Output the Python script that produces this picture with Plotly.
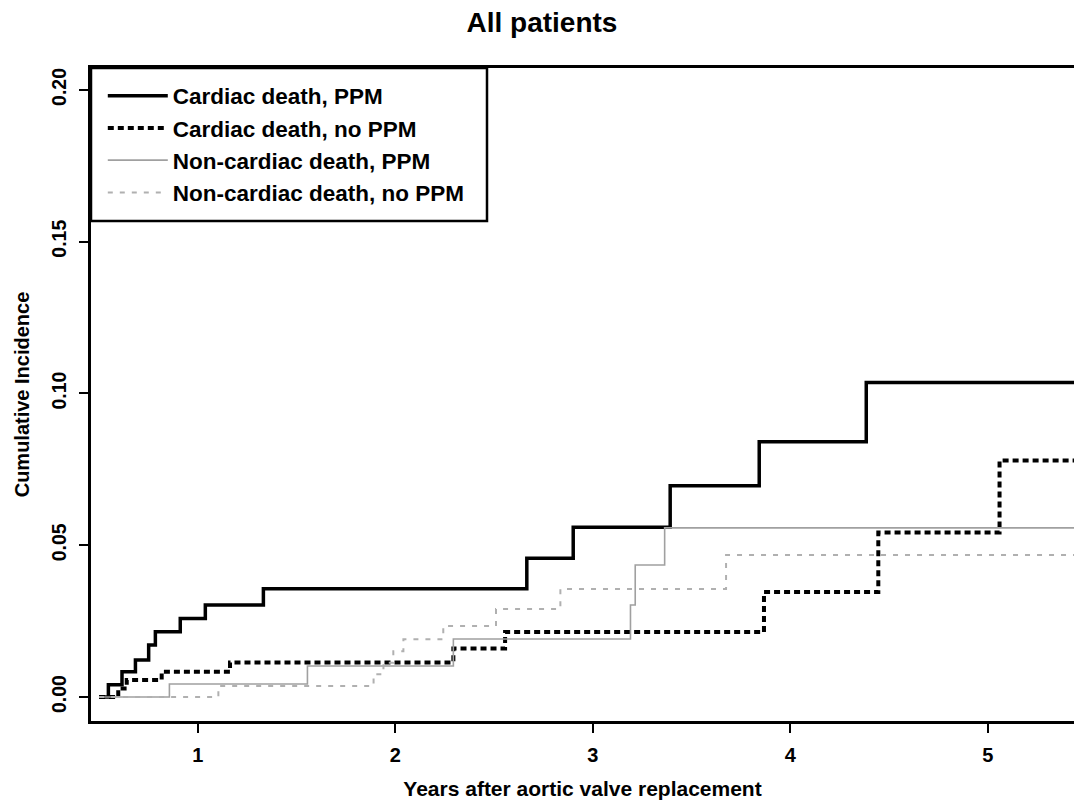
import plotly.graph_objects as go

# Cumulative incidence step curves (time in years, cumulative incidence)
cardiac_ppm_t = [0.50, 0.547, 0.616, 0.684, 0.751, 0.785, 0.911, 1.038, 1.332, 2.666, 2.901, 3.392, 3.843, 4.385, 5.60]
cardiac_ppm_v = [0.0, 0.0040, 0.0083, 0.0122, 0.0171, 0.0215, 0.0259, 0.0303, 0.0357, 0.0457, 0.0559, 0.0696, 0.0841, 0.1036, 0.1036]

cardiac_noppm_t = [0.50, 0.597, 0.640, 0.817, 1.163, 2.294, 2.556, 3.867, 4.446, 5.060, 5.60]
cardiac_noppm_v = [0.0, 0.0028, 0.0056, 0.0083, 0.0114, 0.0160, 0.0214, 0.0346, 0.0542, 0.0779, 0.0779]

noncardiac_ppm_t = [0.50, 0.856, 1.555, 2.294, 3.191, 3.215, 3.364, 5.60]
noncardiac_ppm_v = [0.0, 0.0043, 0.0102, 0.0191, 0.0303, 0.0435, 0.0557, 0.0557]

noncardiac_noppm_t = [0.50, 1.104, 1.890, 1.940, 1.990, 2.041, 2.243, 2.510, 2.836, 3.675, 5.60]
noncardiac_noppm_v = [0.0, 0.0036, 0.0075, 0.0113, 0.0151, 0.0190, 0.0234, 0.0290, 0.0356, 0.0468, 0.0468]

series_names = ["Cardiac death, PPM", "Cardiac death, no PPM",
                "Non-cardiac death, PPM", "Non-cardiac death, no PPM"]

x_ticks = [1, 2, 3, 4, 5]
y_ticks = [0.0, 0.05, 0.10, 0.15, 0.20]
y_tick_text = ["0.00", "0.05", "0.10", "0.15", "0.20"]

FONT = "Liberation Sans, Arial, sans-serif"

styles = [
    dict(color="black", width=3.5, dash="solid"),
    dict(color="black", width=4, dash="6px,4px"),
    dict(color="#a0a0a0", width=1.6, dash="solid"),
    dict(color="#b0b0b0", width=2, dash="5px,7px"),
]
data = [
    (cardiac_ppm_t, cardiac_ppm_v),
    (cardiac_noppm_t, cardiac_noppm_v),
    (noncardiac_ppm_t, noncardiac_ppm_v),
    (noncardiac_noppm_t, noncardiac_noppm_v),
]

fig = go.Figure()
for name, (t, v), st in zip(series_names, data, styles):
    fig.add_trace(go.Scatter(x=t, y=v, mode="lines", name=name,
                             line=dict(shape="hv", **st)))

W, H = 1074, 805
L, R, T, B = 91, 0, 68, 84

# legend frame anchored to the top-left corner of the plot
fig.add_shape(type="rect", xref="paper", yref="paper",
              x0=0, x1=(487 - L) / (W - L - R), y0=1, y1=1 - (221 - T) / (H - T - B),
              line=dict(color="black", width=2.5), fillcolor="white", layer="above")

fig.update_layout(
    width=W, height=H,
    margin=dict(l=L, r=R, t=T, b=B, pad=0),
    paper_bgcolor="white", plot_bgcolor="white",
    font=dict(family=FONT, color="black", weight="bold"),
    title=dict(text="All patients", x=542 / W, xanchor="center",
               y=1 - 22 / H, yanchor="middle",
               font=dict(size=28, family=FONT, weight="bold")),
    showlegend=True,
    legend=dict(x=0.012, y=0.99, xanchor="left", yanchor="top",
                bgcolor="rgba(0,0,0,0)", borderwidth=0,
                font=dict(size=22.5, family=FONT, color="black", weight="bold"),
                itemwidth=60, tracegroupgap=0),
    xaxis=dict(range=[0.459, 5.437], tickvals=x_ticks, ticks="outside",
               ticklen=9, tickwidth=2, tickcolor="black",
               showline=True, linecolor="black", linewidth=2.5, mirror=True,
               showgrid=False, zeroline=False,
               tickfont=dict(size=20, family=FONT, weight="bold"),
               ticklabelstandoff=5,
               title=dict(text="Years after aortic valve replacement",
                          font=dict(size=21, family=FONT, weight="bold"), standoff=17)),
    yaxis=dict(range=[-0.0079, 0.2072], tickvals=y_ticks, ticktext=y_tick_text,
               tickangle=-90, ticks="outside", ticklen=9, tickwidth=2, tickcolor="black",
               showline=True, linecolor="black", linewidth=2.5, mirror=False,
               showgrid=False, zeroline=False,
               tickfont=dict(size=19.5, family=FONT, weight="bold"),
               ticklabelstandoff=5,
               title=dict(text="Cumulative Incidence",
                          font=dict(size=20, family=FONT, weight="bold"), standoff=14)),
)

fig.write_html("out.html")
